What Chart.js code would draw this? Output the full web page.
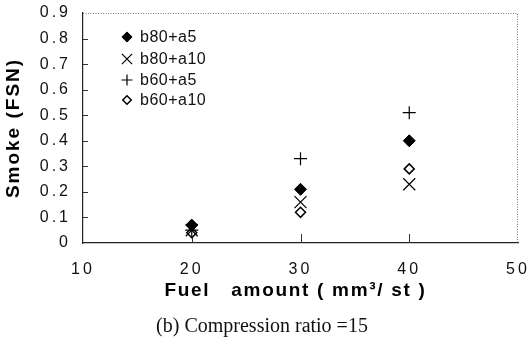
<!DOCTYPE html>
<html>
<head>
<meta charset="utf-8">
<script src="https://cdn.jsdelivr.net/npm/chart.js@4.4.1/dist/chart.umd.min.js"></script>
<style>
  body { margin: 0; background: #fff; }
  #wrap { position: relative; width: 528px; height: 350px; }
  #caption {
    position: absolute; left: -2px; width: 528px; top: 314px;
    text-align: center; font: 20px "Liberation Serif", "Times New Roman", serif; color: #111;
  }
</style>
</head>
<body>
<div id="wrap">
  <canvas id="smokeChart" width="528" height="350"></canvas>
  <div id="caption">(b) Compression ratio =15</div>
</div>
<script>
// fuel amount (mm3/st) and smoke (FSN) per injector setup
const fuelAmounts = [20, 30, 40];
const smokeB80A5  = [0.07, 0.21, 0.40];
const smokeB80A10 = [0.05, 0.16, 0.23];
const smokeB60A5  = [0.05, 0.33, 0.51];
const smokeB60A10 = [0.04, 0.12, 0.29];
const seriesNames = ['b80+a5', 'b80+a10', 'b60+a5', 'b60+a10'];
const xTickValues = [10, 20, 30, 40, 50];
const yTickValues = [0, 0.1, 0.2, 0.3, 0.4, 0.5, 0.6, 0.7, 0.8, 0.9];
const xTitle = 'Fuel   amount ( mm\u00B3/ st )';
const yTitle = 'Smoke (FSN)';

function toPoints(ys){
  return fuelAmounts.map((x, i) => ({x: x, y: ys[i]}));
}

const markers = [
  {pointStyle: 'rectRot', radius: 6, backgroundColor: '#000', borderColor: '#000', borderWidth: 1},
  {pointStyle: 'crossRot', radius: 8.5, backgroundColor: '#000', borderColor: '#000', borderWidth: 1.2},
  {pointStyle: 'cross', radius: 6.5, backgroundColor: '#000', borderColor: '#000', borderWidth: 1.2},
  {pointStyle: 'rectRot', radius: 5, backgroundColor: '#fff', borderColor: '#000', borderWidth: 1.5}
];

const datasets = [smokeB80A5, smokeB80A10, smokeB60A5, smokeB60A10].map((ys, i) => ({
  label: seriesNames[i],
  data: toPoints(ys),
  pointStyle: markers[i].pointStyle,
  pointRadius: markers[i].radius,
  pointBackgroundColor: markers[i].backgroundColor,
  pointBorderColor: markers[i].borderColor,
  pointBorderWidth: markers[i].borderWidth,
  showLine: false
}));

const sans = '"Liberation Sans", Arial, sans-serif';

// dotted top/right frame, inward tick marks, wide spacing on tick labels
const framePlugin = {
  id: 'frame',
  beforeDraw(chart){
    chart.ctx.letterSpacing = '3px';
  },
  beforeDatasetsDraw(chart){
    const {ctx, chartArea: a, scales} = chart;
    ctx.letterSpacing = '0px';
    ctx.save();
    ctx.strokeStyle = '#777';
    ctx.lineWidth = 1;
    ctx.setLineDash([1, 1.5]);
    ctx.beginPath();
    ctx.moveTo(a.left, a.top + 0.5);
    ctx.lineTo(a.right - 0.5, a.top + 0.5);
    ctx.lineTo(a.right - 0.5, a.bottom);
    ctx.stroke();
    ctx.setLineDash([]);
    ctx.strokeStyle = '#333';
    ctx.beginPath();
    yTickValues.slice(1, -1).forEach(v => {
      const y = Math.round(scales.y.getPixelForValue(v)) + 0.5;
      ctx.moveTo(a.left, y);
      ctx.lineTo(a.left + 5, y);
    });
    xTickValues.slice(1, -1).forEach(v => {
      const x = Math.round(scales.x.getPixelForValue(v)) + 0.5;
      ctx.moveTo(x, a.bottom);
      ctx.lineTo(x, a.bottom - 9);
    });
    ctx.stroke();
    ctx.restore();
  },
  // axis titles, bold with a little tracking
  afterDraw(chart){
    const {ctx, chartArea: a} = chart;
    ctx.save();
    ctx.letterSpacing = '1.7px';
    ctx.font = 'bold 19px ' + sans;
    ctx.fillStyle = '#000';
    ctx.textAlign = 'center';
    ctx.textBaseline = 'middle';
    ctx.fillText(xTitle, (a.left + a.right) / 2 - 5, a.bottom + 48);
    ctx.translate(14, (a.top + a.bottom) / 2);
    ctx.rotate(-Math.PI / 2);
    ctx.letterSpacing = '2px';
    ctx.fillText(yTitle, 0, 0);
    ctx.restore();
  }
};

// legend inside the plot, top-left
const insideLegend = {
  id: 'insideLegend',
  afterDraw(chart){
    const {ctx, chartArea: a} = chart;
    const rows = [37, 59, 80, 100];
    ctx.save();
    ctx.letterSpacing = '0.5px';
    ctx.font = '16px ' + sans;
    ctx.textBaseline = 'middle';
    chart.data.datasets.forEach((ds, i) => {
      const m = markers[i];
      const y = rows[i];
      ctx.fillStyle = m.backgroundColor;
      ctx.strokeStyle = m.borderColor;
      ctx.lineWidth = m.borderWidth;
      Chart.helpers.drawPoint(ctx, {pointStyle: m.pointStyle, radius: m.radius * 0.85, rotation: 0, borderWidth: m.borderWidth}, a.left + 44, y);
      ctx.fillStyle = '#111';
      ctx.fillText(ds.label, a.left + 57, y + 1);
    });
    ctx.restore();
  }
};

const tickFont = {family: sans, size: 16};

const ctx = document.getElementById('smokeChart').getContext('2d');
new Chart(ctx, {
  type: 'scatter',
  data: {datasets: datasets},
  plugins: [framePlugin, insideLegend],
  options: {
    responsive: false,
    animation: false,
    layout: {padding: {left: 0, top: 13, right: 10, bottom: 43}},
    plugins: {legend: {display: false}, tooltip: {enabled: false}},
    scales: {
      x: {
        type: 'linear',
        min: xTickValues[0],
        max: xTickValues[xTickValues.length - 1],
        afterBuildTicks(scale){ scale.ticks = xTickValues.map(v => ({value: v})); },
        afterFit(scale){
          scale.height = 64;
          scale.paddingLeft = 0;
          scale.paddingRight = 0;
        },
        border: {color: '#222', width: 1.2},
        grid: {display: false, tickLength: 0},
        ticks: {color: '#111', padding: 17, font: tickFont}
      },
      y: {
        type: 'linear',
        min: yTickValues[0],
        max: yTickValues[yTickValues.length - 1],
        afterBuildTicks(scale){ scale.ticks = yTickValues.map(v => ({value: v})); },
        afterFit(scale){
          scale.width = 83;
          scale.paddingTop = 0;
          scale.paddingBottom = 0;
        },
        border: {color: '#222', width: 1.2},
        grid: {display: false, tickLength: 0},
        ticks: {color: '#111', padding: 12, font: tickFont}
      }
    }
  }
});
</script>
</body>
</html>
